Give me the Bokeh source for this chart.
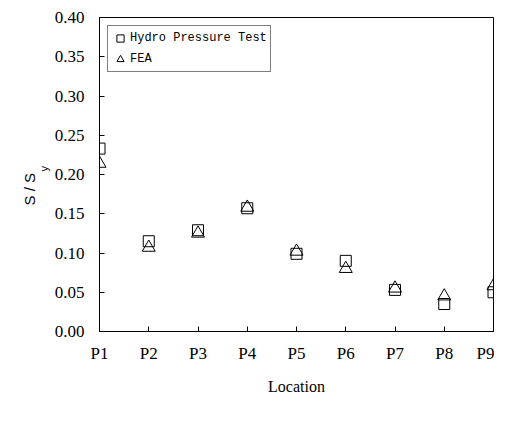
from bokeh.plotting import figure
from bokeh.models import FixedTicker, Legend, LegendItem, Range1d, Title
from bokeh.embed import file_html
from bokeh.resources import INLINE

locations = ["P1", "P2", "P3", "P4", "P5", "P6", "P7", "P8", "P9"]
hydro_test = [0.233, 0.115, 0.129, 0.157, 0.099, 0.090, 0.053, 0.035, 0.050]
fea = [0.214, 0.107, 0.125, 0.158, 0.102, 0.080, 0.055, 0.045, 0.058]
y_ticks = [0.00, 0.05, 0.10, 0.15, 0.20, 0.25, 0.30, 0.35, 0.40]

xs = list(range(1, len(locations) + 1))

p = figure(width=494, height=406, output_backend="svg", toolbar_location=None,
           x_range=Range1d(1, len(locations)), y_range=Range1d(0, 0.4),
           min_border_left=99, min_border_right=1, min_border_top=17, min_border_bottom=75)

p.background_fill_color = "white"
p.border_fill_color = "white"
p.outline_line_color = "black"
p.outline_line_width = 1
p.grid.visible = False

serif = "Liberation Serif"

sq = p.scatter(xs, hydro_test, marker="square", size=11, fill_color=None,
               line_color="black", line_width=1)
tr = p.scatter(xs, fea, marker="triangle", size=13, fill_color=None,
               line_color="black", line_width=1)

for ax in (p.xaxis[0], p.yaxis[0]):
    ax.axis_line_color = "black"
    ax.axis_line_width = 1
    ax.major_tick_in = 5
    ax.major_tick_out = 0
    ax.minor_tick_line_color = None
    ax.major_tick_line_color = "black"
    ax.major_label_text_font = serif
    ax.major_label_text_font_size = "17px"
    ax.major_label_text_color = "black"

p.yaxis[0].major_label_standoff = 15
p.xaxis[0].major_label_standoff = 12

p.xaxis[0].ticker = FixedTicker(ticks=xs)
p.xaxis[0].major_label_overrides = {x: name for x, name in zip(xs, locations)}
p.yaxis[0].ticker = FixedTicker(ticks=y_ticks)
p.yaxis[0].major_label_overrides = {t: f"{t:.2f}" for t in y_ticks}

p.xaxis[0].axis_label = "Location"
p.xaxis[0].axis_label_text_font = serif
p.xaxis[0].axis_label_text_font_size = "16px"
p.xaxis[0].axis_label_text_font_style = "normal"
p.xaxis[0].axis_label_text_color = "black"
p.xaxis[0].axis_label_standoff = 12

# y axis title "S / S" with subscript "y", as two side titles
sub_title = Title(text="y", align="left", offset=160, standoff=0,
                  vertical_align="top",
                  text_font="Liberation Sans", text_font_size="11px",
                  text_font_style="normal", text_color="black")
main_title = Title(text="S / S", align="left", offset=126, standoff=0,
                   text_font="Liberation Sans", text_font_size="15px",
                   text_font_style="normal", text_color="black")
p.add_layout(sub_title, "left")
p.add_layout(main_title, "left")

legend = Legend(items=[LegendItem(label="Hydro Pressure Test", renderers=[sq]),
                       LegendItem(label="FEA", renderers=[tr])],
                location="top_left")
legend.margin = 8
legend.padding = 3
legend.spacing = 3
legend.glyph_width = 18
legend.glyph_height = 18
legend.label_height = 16
legend.label_standoff = 1
legend.label_text_font = "Liberation Mono"
legend.label_text_font_size = "12px"
legend.label_text_color = "black"
legend.border_line_color = "black"
legend.border_line_width = 1
legend.background_fill_color = "white"
legend.background_fill_alpha = 1
p.add_layout(legend)

open("out.html", "w").write(file_html(p, INLINE))
